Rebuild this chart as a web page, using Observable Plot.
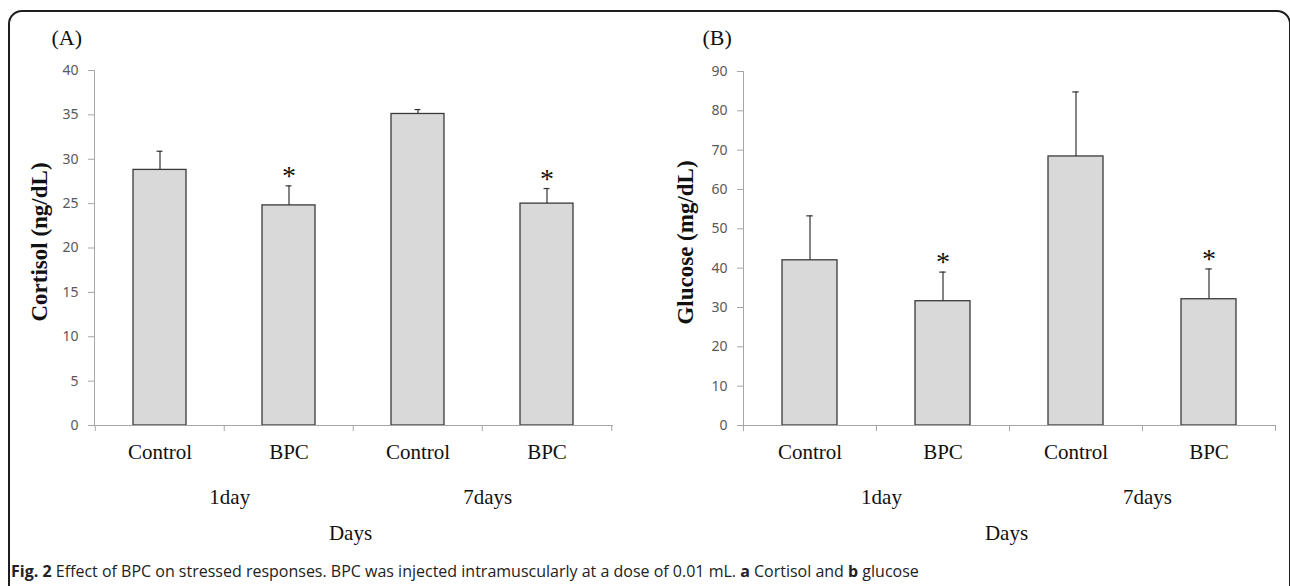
<!DOCTYPE html>
<html>
<head>
<meta charset="utf-8">
<script src="https://cdn.jsdelivr.net/npm/d3@7"></script>
<script src="https://cdn.jsdelivr.net/npm/@observablehq/plot@0.6"></script>
<style>
  html, body { margin: 0; padding: 0; background: #fff; }
  body { width: 1290px; height: 586px; position: relative; overflow: hidden; }
  .border { position: absolute; left: 8px; top: 10px; width: 1279px; height: 700px;
            border: 2px solid #1e1e1e; border-radius: 14px; box-sizing: content-box; }
  .panel { position: absolute; top: 0; }
  .caption { position: absolute; left: 11px; top: 561px; font-family: "Open Sans", sans-serif;
             font-size: 16px; line-height: 20px; color: #222; white-space: nowrap; }
</style>
</head>
<body>
<div class="border"></div>
<div class="panel" id="pA" style="left:0px"></div>
<div class="panel" id="pB" style="left:645px"></div>
<div class="caption"><b>Fig. 2</b> Effect of BPC on stressed responses. BPC was injected intramuscularly at a dose of 0.01 mL. <b>a</b> Cortisol and <b>b</b> glucose</div>
<script>
// ---- data ----
const groups = ["1day", "1day", "7days", "7days"];
const treatments = ["Control", "BPC", "Control", "BPC"];
const significant = [false, true, false, true];
const cortisolMean = [28.8, 24.8, 35.1, 25.0];
const cortisolSD = [2.1, 2.2, 0.5, 1.7];
const glucoseMean = [42.0, 31.6, 68.4, 32.1];
const glucoseSD = [11.3, 7.4, 16.4, 7.7];
const cortisolTicks = [0, 5, 10, 15, 20, 25, 30, 35, 40];
const glucoseTicks = [0, 10, 20, 30, 40, 50, 60, 70, 80, 90];
const groupLabels = ["1day", "7days"];
const xTitle = "Days";

const keys = groups.map((g, i) => g + " " + treatments[i]);
const gray = "#a6a6a6";
const serif = "'Liberation Serif', 'Times New Roman', serif";

function panel(cfg) {
  const W = 645, H = 550;
  const step = (W - cfg.ml - cfg.mr) / keys.length;
  const bw = step * (1 - 0.59);
  const rows = keys.map((k, i) => ({
    key: k, treatment: treatments[i], mean: cfg.means[i],
    upper: cfg.means[i] + cfg.sds[i], sig: significant[i]
  }));
  const groupRows = groupLabels.map(g => ({label: g, key: keys[groups.indexOf(g)]}));
  return Plot.plot({
    width: W, height: H,
    marginLeft: cfg.ml, marginRight: cfg.mr, marginTop: cfg.mt, marginBottom: H - 425,
    style: {background: "transparent", fontFamily: serif, overflow: "visible"},
    x: {domain: keys, paddingInner: 0.59, paddingOuter: 0.295, axis: null},
    y: {domain: [0, cfg.ticks[cfg.ticks.length - 1]], axis: null},
    marks: [
      Plot.barY(rows, {x: "key", y: "mean", fill: "#d9d9d9", stroke: "#3a3a3a", strokeWidth: 1.3}),
      Plot.ruleX(rows, {x: "key", y1: "mean", y2: "upper", stroke: "#333", strokeWidth: 1.2}),
      Plot.tickY(rows, {x: "key", y: "upper", stroke: "#333", strokeWidth: 1.2, inset: (bw - 6) / 2}),
      Plot.frame({anchor: "left", stroke: gray}),
      Plot.frame({anchor: "bottom", stroke: gray}),
      Plot.axisY({ticks: cfg.ticks, tickSize: 6, tickPadding: 10, stroke: gray, fill: "#595959",
                  fontFamily: "'Noto Sans', sans-serif", fontSize: 14, label: null}),
      Plot.axisX({ticks: keys, tickSize: 0, tickPadding: 19, tickFormat: k => treatments[keys.indexOf(k)],
                  fontSize: 21, fill: "#111", label: null}),
      Plot.axisX({ticks: keys, tickSize: 6, tickFormat: () => "", dx: -step / 2, stroke: gray, label: null}),
      Plot.axisX({ticks: [keys[keys.length - 1]], tickSize: 6, tickFormat: () => "", dx: step / 2, stroke: gray, label: null}),
      Plot.text(groupRows, {x: "key", text: "label", frameAnchor: "bottom", dx: step / 2 + 5, dy: 72,
                            lineAnchor: "middle", fontSize: 21, fill: "#111"}),
      Plot.text([xTitle], {text: d => d, frameAnchor: "bottom", dx: -3, dy: 108, lineAnchor: "middle",
                           fontSize: 21, fill: "#111"}),
      Plot.text([cfg.yTitle], {text: d => d, frameAnchor: "left", textAnchor: "middle", lineAnchor: "middle",
                               rotate: -90, dx: cfg.labelDx, dy: -6,
                               fontSize: 23, fontWeight: "bold", fill: "#111"}),
      Plot.text([cfg.letter], {text: d => d, frameAnchor: "top-left", textAnchor: "start",
                               dx: cfg.letterDx, dy: 37.5 - cfg.mt, lineAnchor: "middle", fontSize: 22, fill: "#111"}),
      Plot.text(rows.filter(d => d.sig), {x: "key", y: "upper", text: () => "*", dy: -10,
                                          lineAnchor: "middle", fontSize: 28, fill: "#111"})
    ]
  });
}

document.getElementById("pA").appendChild(panel({
  means: cortisolMean, sds: cortisolSD, ticks: cortisolTicks, yTitle: "Cortisol (ng/dL)", letter: "(A)",
  ml: 94, mr: 33, mt: 70, labelDx: -55, letterDx: -43
}));
document.getElementById("pB").appendChild(panel({
  means: glucoseMean, sds: glucoseSD, ticks: glucoseTicks, yTitle: "Glucose (mg/dL)", letter: "(B)",
  ml: 98, mr: 15, mt: 71, labelDx: -58, letterDx: -41
}));
</script>
</body>
</html>
